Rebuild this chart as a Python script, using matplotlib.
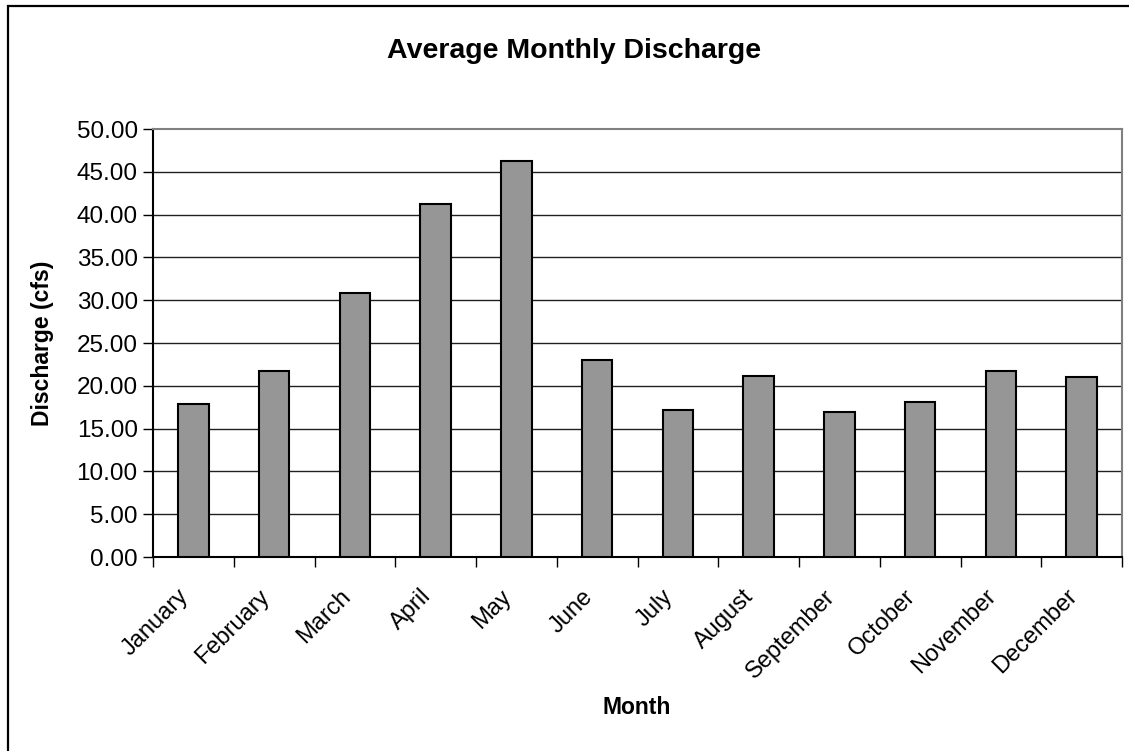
import matplotlib.pyplot as plt
import matplotlib.patches as patches
import matplotlib.transforms as mtransforms
import numpy as np

months = ["January", "February", "March", "April", "May", "June",
          "July", "August", "September", "October", "November", "December"]
discharge = [17.84, 21.73, 30.88, 41.27, 46.30, 23.05,
             17.17, 21.10, 16.97, 18.07, 21.73, 21.06]
yticks = [0, 5, 10, 15, 20, 25, 30, 35, 40, 45, 50]

plt.rcParams['font.family'] = ['Liberation Sans', 'DejaVu Sans']

fig = plt.figure(figsize=(11.29, 7.51), dpi=100)
ax = fig.add_axes([153 / 1129, 1 - 557 / 751, 969 / 1129, 428 / 751])

x = np.arange(len(months))
ax.bar(x, discharge, width=0.38, color='#969696', edgecolor='black',
       linewidth=1.5, zorder=3)

# horizontal gridlines
for y in yticks[1:-1]:
    ax.axhline(y, color='#202020', linewidth=1, zorder=1)

ax.set_xlim(-0.5, len(months) - 0.5)
ax.set_ylim(0, 50)
ax.set_yticks(yticks)
ax.set_yticklabels([f'{v:.2f}' for v in yticks], fontsize=17.5)

# category ticks sit between the bars
ax.set_xticks(np.arange(len(months) + 1) - 0.5)
ax.set_xticklabels([])
ax.set_xticks(x, minor=True)
ax.set_xticklabels(months, minor=True, rotation=45, ha='right', va='center',
                   rotation_mode='anchor', fontsize=17)
ax.tick_params(axis='x', which='minor', length=0, pad=26)
ax.tick_params(axis='x', which='major', length=7, width=1, direction='out')
ax.tick_params(axis='y', length=7, width=1, direction='out', pad=4)

# nudge the month names a little to the left
shift = mtransforms.ScaledTranslation(-0.08, 0, fig.dpi_scale_trans)
for lbl in ax.get_xticklabels(minor=True):
    lbl.set_transform(lbl.get_transform() + shift)

ax.spines['left'].set_color('black')
ax.spines['bottom'].set_color('black')
ax.spines['top'].set_color('#808080')
ax.spines['right'].set_color('#808080')
for s in ax.spines.values():
    s.set_linewidth(1.5)

ax.set_ylabel('Discharge (cfs)', fontsize=16.5, fontweight='bold')
ax.yaxis.set_label_coords(-99 / 969, 0.5)
fig.text(637 / 1129, 1 - 708 / 751, 'Month', fontsize=16.5, fontweight='bold',
         ha='center', va='center')
fig.text(574 / 1129, 1 - 51 / 751, 'Average Monthly Discharge', fontsize=20.5,
         fontweight='bold', ha='center', va='center')

# outer chart frame
frame = patches.Rectangle((8 / 1129, -0.05), 1.2, 1 - 6 / 751 + 0.05,
                          transform=fig.transFigure, fill=False,
                          edgecolor='black', linewidth=1.6, clip_on=False)
fig.patches.append(frame)

fig.savefig('out.png', dpi=100)
